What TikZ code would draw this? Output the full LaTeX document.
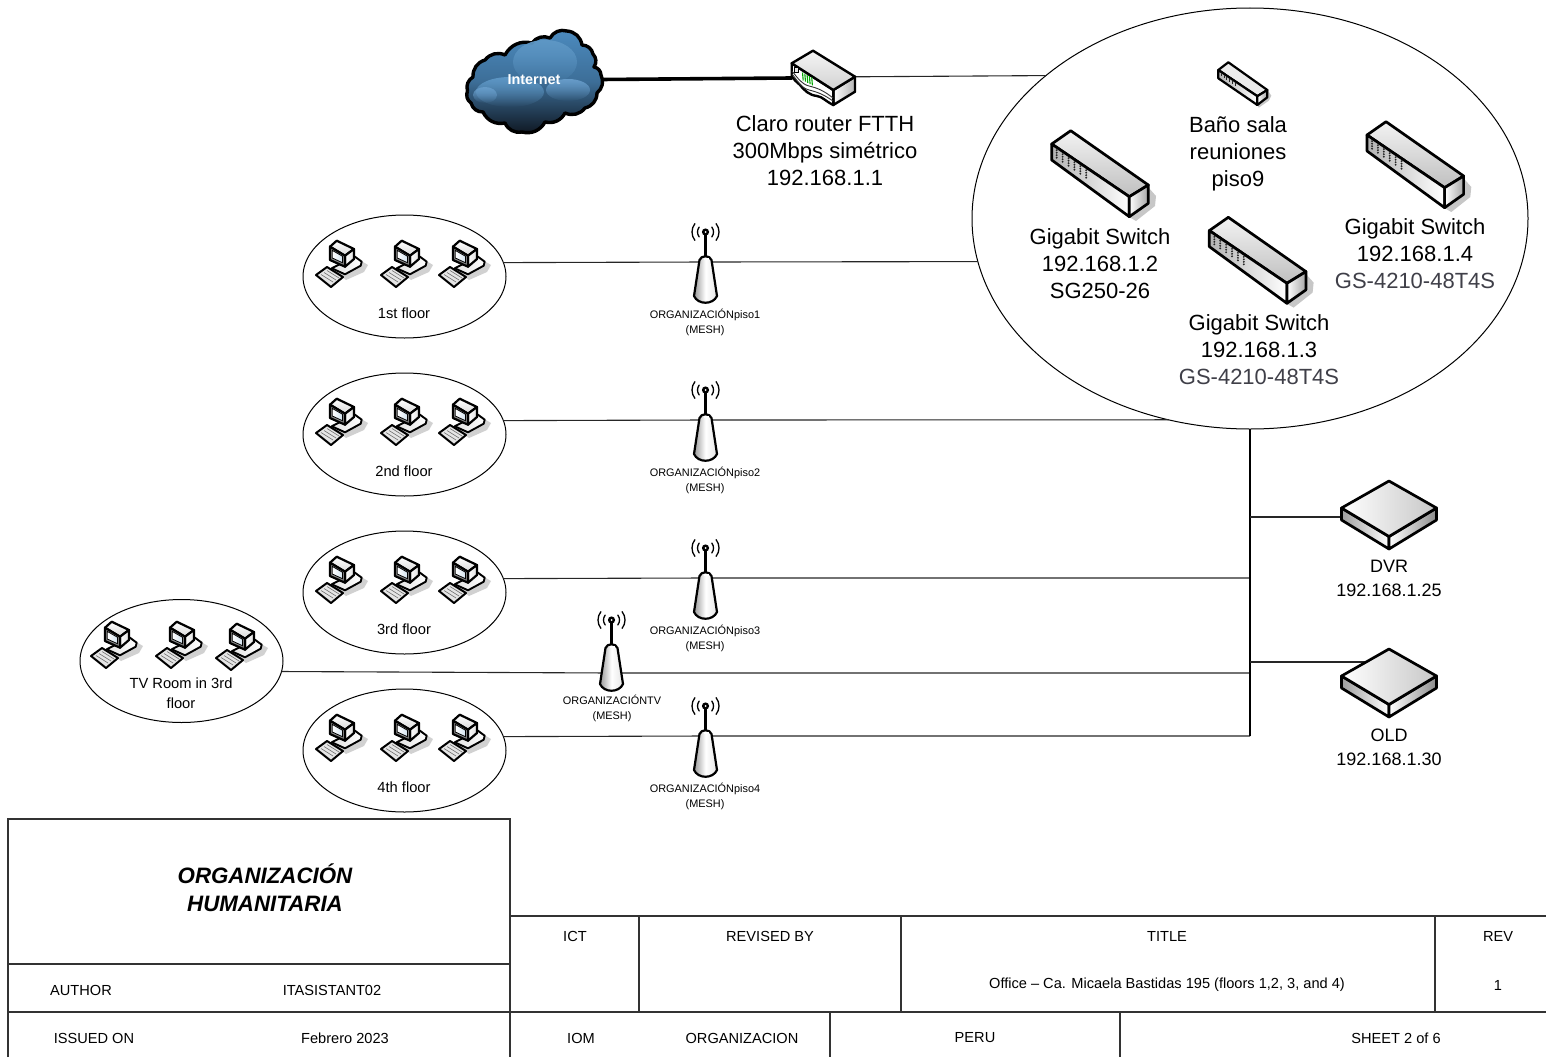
\documentclass[tikz,border=0pt]{standalone}
\usepackage{fontspec}
\setmainfont{Liberation Sans}
\usetikzlibrary{shapes.geometric,fadings,calc}
\definecolor{inkgrey}{HTML}{3F3F48}
\definecolor{cloudblue}{HTML}{4C8BBF}
\definecolor{clouddark}{HTML}{0E1620}
\newcommand{\fsz}[2]{\fontsize{#1}{#2}\selectfont}
\tikzset{
  room/.style={draw=black,line width=1pt,ellipse,inner sep=0pt,outer sep=0pt,minimum width=203pt,minimum height=123pt},
  link/.style={draw=black!85,line width=1.1pt},
  buslink/.style={draw=black,line width=1.7pt},
  rule/.style={draw=black!80,line width=1.5pt},
  biglabel/.style={align=center,font=\fsz{22}{27},text=black,inner sep=0pt},
  midlabel/.style={align=center,font=\fsz{18}{24},text=black,inner sep=0pt},
  roomlabel/.style={align=center,font=\fsz{14.7}{20},text=black,inner sep=0pt},
  meshlabel/.style={align=center,font=\fsz{10.9}{15},text=black,inner sep=0pt},
  cell/.style={font=\fsz{14.6}{16},text=black,inner sep=0pt},
  iconline/.style={draw=black,line width=2.7pt,line join=round},
  pcicon/.pic={
    \fill[black!18] (-4,8) -- (20,-4) -- (30,2) -- (26,9) -- (8,17) -- cycle;
    \path[iconline,line width=1.9pt,left color=black!12,right color=white] (-6.3,5.3) -- (17,-6.3) -- (23.7,-1.3) -- (22.7,2.7) -- (7,11.3) -- cycle;
    \path[iconline,line width=2.2pt,fill=white,top color=white,bottom color=black!15] (-8,-16.3) -- (-1.3,-22.3) -- (16,-14) -- (7,-7.3) -- cycle;
    \path[iconline,line width=2.2pt,left color=white,right color=black!12] (7,-7.3) -- (16,-14) -- (16,-4) -- (7,3.7) -- cycle;
    \path[iconline,line width=2.2pt,fill=black!45] (-8,-16.3) -- (7,-7.3) -- (7,3.7) -- (-8,-3) -- cycle;
    \path[left color=white,right color=cloudblue!25,draw=black,line width=.8pt] (-5.7,-12.6) -- (4.4,-6.8) -- (4.4,-0.3) -- (-5.7,-5) -- cycle;
    \path[iconline,line width=2pt,fill=black!10] (-22,12) -- (-11,4) -- (5,14) -- (-7,24) -- cycle;
    \draw[black!55,line width=.6pt] (-17,11.5) -- (-5,19) (-14,9.5) -- (-2,17) (-11,7.5) -- (1,15);
  },
  apicon/.pic={
    \draw[line width=1.3pt,line cap=round] (0.5,-30) ++(-38:8) arc[start angle=-38,end angle=38,radius=8];
    \draw[line width=1.3pt,line cap=round] (0.5,-30) ++(142:8) arc[start angle=142,end angle=218,radius=8];
    \draw[line width=1.3pt,line cap=round] (0.5,-30) ++(-38:13.5) arc[start angle=-38,end angle=38,radius=13.5];
    \draw[line width=1.3pt,line cap=round] (0.5,-30) ++(142:13.5) arc[start angle=142,end angle=218,radius=13.5];
    \draw[line width=2.2pt] (0.5,-30) -- (0.5,-4);
    \fill[black] (0.5,-30) circle[radius=3.6];
    \fill[white] (0.5,-30) circle[radius=1];
    \path[iconline,line width=2.2pt,left color=black!40,right color=black!10,middle color=white] (-5.5,-2) .. controls (-4,-7) and (5,-7) .. (6.5,-2) -- (12,34) .. controls (8,43) and (-7,43) .. (-11,34) -- cycle;
    \draw[white,line width=1.2pt] (-1.5,-3) -- (3.5,-3);
  },
  swicon/.pic={
    \fill[black!22] (48,14) -- (56,23) -- (55,33) -- (36,48) -- (29,44) -- cycle;
    \path[iconline,top color=black!5,bottom color=black!25] (-48.3,-29) -- (-29.3,-42.3) -- (48.3,12) -- (29.3,23.7) -- cycle;
    \path[iconline,left color=black!30,right color=white] (-48.3,-29) -- (29.3,23.7) -- (29.3,43.7) -- (-48.3,-13) -- cycle;
    \path[iconline,left color=white,right color=black!35] (29.3,23.7) -- (48.3,12) -- (48.3,30.3) -- (29.3,43.7) -- cycle;
    \draw[black,line width=1pt] (-48.3,-29) -- (29.3,23.7);
    \foreach \c in {0,...,5}{\foreach \r in {0,...,3}{
      \fill[black!85] ($(-43.3+5.9*\c,-22.8+4*\c+2.5*\r)$) circle[radius=1.05];
    }}
  },
  smallswicon/.pic={
    \fill[black!22] (24.5,6) -- (28.5,12) -- (26,17) -- (16,24) -- (14,20) -- cycle;
    \path[iconline,line width=2.2pt,fill=black!8] (-24.5,-13.7) -- (-14.5,-21.4) -- (24.5,6.3) -- (14.5,12.5) -- cycle;
    \path[iconline,line width=2.2pt,left color=black!30,right color=white] (-24.5,-13.7) -- (14.5,12.5) -- (14.5,21.3) -- (-24.5,-5.4) -- cycle;
    \path[iconline,line width=2.2pt,left color=white,right color=black!35] (14.5,12.5) -- (24.5,6.3) -- (24.5,13.6) -- (14.5,21.3) -- cycle;
    \foreach \c in {0,...,5}{\fill[black!85] ($(-22+2.8*\c,-10.5+1.9*\c)$) rectangle ++(1,3);}
  },
  boxicon/.pic={
    \path[iconline,left color=black!38,right color=white] (-47.5,-9) -- (0,19.5) -- (0,32) -- (-47.5,3) -- cycle;
    \path[iconline,left color=white,right color=black!45] (0,19.5) -- (47.5,-9) -- (47.5,3) -- (0,32) -- cycle;
    \path[iconline,left color=white,right color=black!22] (0,-36) -- (47.5,-9) -- (0,19.5) -- (-47.5,-9) -- cycle;
  },
  routericon/.pic={
    \path[iconline,line width=2.4pt,left color=white,right color=black!30] (10.3,13) -- (32,-0.3) -- (32,14.7) -- (10.3,28) -- cycle;
    \path[iconline,line width=2.4pt,fill=white] (-31.3,-13.7) -- (10.3,13) -- (10.3,28) .. controls (2,24) and (0,20) .. (-6,19) .. controls (-14,18) and (-18,14) .. (-23,8) .. controls (-26,5) and (-29,3) .. (-31.3,-0.3) -- cycle;
    \path[iconline,line width=2.4pt,top color=black!4,bottom color=black!18] (-10,-26.3) -- (32,-0.3) -- (10.3,13) -- (-31.3,-13.7) -- cycle;
    \draw[black!80,line width=.9pt] (-31,-6) .. controls (-26,0) and (-22,7) .. (-14,9) .. controls (-6,11) and (0,13) .. (10,21);
    \draw[black!80,line width=.9pt] (-31,-3) .. controls (-26,3) and (-22,11) .. (-14,13) .. controls (-6,15) and (0,17) .. (10,24);
    \draw[black,line width=.8pt,fill=black!10] (-29,-10) rectangle (-25,-5);
    \foreach \c in {0,...,4}{\draw[green!65!black,line width=1.1pt] (-20.5+2.3*\c,-4.5+1.2*\c) -- ++(0.7,8);}
  }
}
\begin{document}
\begin{tikzpicture}[x=1pt,y=-1pt]
\useasboundingbox (0,0) rectangle (1546,1057);
% rooms and main cluster
\node[room,minimum width=556pt,minimum height=421pt] (main) at (1250,218.5) {};
\node[room] (f1) at (404.5,276.5) {};
\node[room] (f2) at (404.5,434.5) {};
\node[room] (f3) at (404.5,592.5) {};
\node[room] (f4) at (404.5,750.5) {};
\node[room] (tv) at (181.5,661) {};
% access points (on the links), bus and far ends
\coordinate (ap1) at (705,262);
\coordinate (ap2) at (705,420);
\coordinate (ap3) at (705,578);
\coordinate (ap4) at (705,736);
\coordinate (aptv) at (611,673);
\coordinate (busend) at (1250,736);
\coordinate (router) at (823,77);
\coordinate (cloud) at (534,80);
\coordinate (dvr) at (1341,517);
\coordinate (old) at (1368,662);
% connectors
\draw[link] (f1.8.3) -- (ap1) -- (main.189.2);
\draw[link] (f2.8.3) -- (ap2) -- (main.248.4);
\draw[link] (f3.8.3) -- (ap3) -- (ap3 -| busend);
\draw[link] (f4.8.3) -- (ap4) -- (busend);
\draw[link] (tv.-6.1) -- (aptv) -- (aptv -| busend);
\draw[buslink] (main.south) -- (busend);
\draw[link] (dvr -| busend) -- (dvr);
\draw[link] (old -| busend) -- (old);
\draw[link] (router) -- (main.145.7);
\draw[draw=black,line width=3.6pt] (601,79.5) -- (792,78);
% cloud
\begin{scope}[xshift=450pt,yshift=-30pt]
\begin{scope}[every to/.style={bend left=38}]
\path[draw=black,line width=3.4pt,line join=round,top color=cloudblue,bottom color=clouddark,middle color=cloudblue!75!clouddark]
 (17.5,61) to (23,47) to (35,30) to (55,25) to (82,13) to (100,8) to (117,1) to (132,15) to (143,24) to (144,37) to (151,45) to (147,63) to (135,78) to (115,83) to (95,92) to (72,102) to (55,93) to (33,82) to (21,73) to (17.5,61);
\end{scope}
\fill[cloudblue!90!white,path fading=south] (95,32) ellipse[x radius=32,y radius=22];
\fill[cloudblue!90!white,path fading=south] (60,62) ellipse[x radius=34,y radius=15];
\fill[cloudblue!85!white,path fading=south] (118,60) ellipse[x radius=22,y radius=11];
\fill[cloudblue!85!white,path fading=south] (35,65) ellipse[x radius=12,y radius=8];
\end{scope}
\node[font=\bfseries\fsz{14.4}{15},text=white,inner sep=0pt] (cloudtxt) at (534,80) {Internet};
% icons
\pic at (router) {routericon};
\foreach \p in {ap1,ap2,ap3,ap4}{\pic at (\p) {apicon};}
\pic at (611,650) {apicon};
\foreach \yy in {263,421,579,737}{
  \pic at (338,\yy) {pcicon};
  \pic at (403,\yy) {pcicon};
  \pic at (461,\yy) {pcicon};
}
\pic at (113,644) {pcicon};
\pic at (178,644) {pcicon};
\pic at (238,646) {pcicon};
\pic at (1100,173) {swicon};
\pic at (1257.6,259.6) {swicon};
\pic at (1415.3,164) {swicon};
\pic at (1242.8,83.7) {smallswicon};
\pic at (1389,517) {boxicon};
\pic at (1389,685) {boxicon};
% labels
\node[biglabel] (lrouter) at (825,151) {Claro router FTTH\\300Mbps simétrico\\192.168.1.1};
\node[biglabel] (lsw0) at (1238,154) {Baño sala\\reuniones\\piso9};
\node[biglabel] (lsw1) at (1100,264) {Gigabit Switch\\192.168.1.2\\SG250-26};
\node[biglabel] (lsw2) at (1259,350) {Gigabit Switch\\192.168.1.3\\\textcolor{inkgrey}{GS-4210-48T4S}};
\node[biglabel] (lsw3) at (1415,254) {Gigabit Switch\\192.168.1.4\\\textcolor{inkgrey}{GS-4210-48T4S}};
\node[midlabel] (ldvr) at (1389,578) {DVR\\192.168.1.25};
\node[midlabel] (lold) at (1389,747) {OLD\\192.168.1.30};
\node[roomlabel] (lf1) at (404,313) {1st floor};
\node[roomlabel] (lf2) at (404,471) {2nd floor};
\node[roomlabel] (lf3) at (404,629) {3rd floor};
\node[roomlabel] (lf4) at (404,787) {4th floor};
\node[roomlabel] (ltv) at (181,693) {TV Room in 3rd\\floor};
\node[meshlabel] (lap1) at (705,322.5) {ORGANIZACIÓNpiso1\\(MESH)};
\node[meshlabel] (lap2) at (705,480.5) {ORGANIZACIÓNpiso2\\(MESH)};
\node[meshlabel] (lap3) at (705,638.5) {ORGANIZACIÓNpiso3\\(MESH)};
\node[meshlabel] (lap4) at (705,796.5) {ORGANIZACIÓNpiso4\\(MESH)};
\node[meshlabel] (laptv) at (612,708) {ORGANIZACIÓNTV\\(MESH)};
% title block
\draw[rule] (8,1057) -- (8,819) -- (510,819) -- (510,1057);
\draw[rule] (8,964) -- (510,964);
\draw[rule] (8,1012) -- (1546,1012);
\draw[rule] (510,916) -- (1546,916);
\draw[rule] (639,916) -- (639,1012);
\draw[rule] (901,916) -- (901,1012);
\draw[rule] (1435,916) -- (1435,1012);
\draw[rule] (830,1012) -- (830,1057);
\draw[rule] (1120,1012) -- (1120,1057);
\node[align=center,font=\bfseries\itshape\fsz{22.3}{28},text=black,inner sep=0pt] (org) at (265,888) {ORGANIZACIÓN\\HUMANITARIA};
\node[cell] (c1) at (575,936) {ICT};
\node[cell] (c2) at (770,936) {REVISED BY};
\node[cell] (c3) at (1167,936) {TITLE};
\node[cell] (c4) at (1498,936) {REV};
\node[cell] (c5) at (1167,985) {Office – Ca. Micaela Bastidas 195 (floors 1,2, 3, and 4)};
\node[cell] (c6) at (1498,985) {1};
\node[cell] (c7) at (81,990) {AUTHOR};
\node[cell] (c8) at (332,990) {ITASISTANT02};
\node[cell] (c9) at (94,1038) {ISSUED ON};
\node[cell] (c10) at (345,1038) {Febrero 2023};
\node[cell] (c11) at (581,1038) {IOM};
\node[cell] (c12) at (742,1038) {ORGANIZACION};
\node[cell] (c13) at (975,1038) {PERU};
\node[cell] (c14) at (1396,1038) {SHEET 2 of 6};
\end{tikzpicture}
\end{document}
